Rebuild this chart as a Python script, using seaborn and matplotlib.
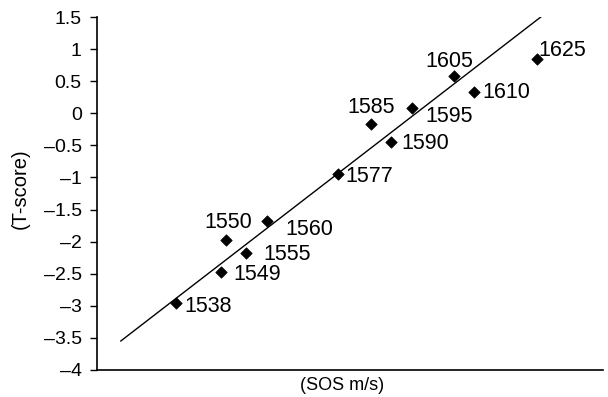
import matplotlib
matplotlib.use("Agg")
import matplotlib.pyplot as plt
import seaborn as sns
import pandas as pd

# Speed of sound (m/s) and corresponding T-scores
sos = [1538, 1549, 1550, 1555, 1560, 1577, 1585, 1590, 1595, 1605, 1610, 1625]
t_score = [-2.95, -2.47, -1.97, -2.18, -1.68, -0.945, -0.17, -0.45, 0.08, 0.58, 0.33, 0.85]
point_labels = ["1538", "1549", "1550", "1555", "1560", "1577",
                "1585", "1590", "1595", "1605", "1610", "1625"]

# Trend line end points
trend_sos = [1524.7, 1626.4]
trend_t = [-3.55, 1.52]

y_ticks = [-4, -3.5, -3, -2.5, -2, -1.5, -1, -0.5, 0, 0.5, 1, 1.5]
y_tick_labels = ["\u20134", "\u20133.5", "\u20133", "\u20132.5", "\u20132", "\u20131.5",
                 "\u20131", "\u20130.5", "0", "0.5", "1", "1.5"]

# label placement (pixel offsets, horizontal alignment)
label_offsets = [(9, -4, "left"), (12, -3, "left"), (3, 17, "center"), (17, -1, "left"),
                 (18, -8, "left"), (8, -3, "left"), (0, 17, "center"), (10, -1, "left"),
                 (13, -8, "left"), (-4, 15, "center"), (8, 0, "left"), (2, 8, "left")]

df = pd.DataFrame({"sos": sos, "t": t_score})
trend = pd.DataFrame({"sos": trend_sos, "t": trend_t})

sns.set_theme(style="white")
plt.rcParams["font.family"] = ["Liberation Sans", "DejaVu Sans"]
plt.rcParams["text.color"] = "black"
plt.rcParams["axes.labelcolor"] = "black"

fig = plt.figure(figsize=(6.08, 3.97), dpi=100)
ax = fig.add_axes([97 / 608, 1 - 370 / 397, (603 - 97) / 608, (370 - 17) / 397])

sns.lineplot(data=trend, x="sos", y="t", ax=ax, color="black", linewidth=1.0)
sns.scatterplot(data=df, x="sos", y="t", ax=ax, marker="D", s=34,
                color="black", edgecolor="black", linewidth=0.5, zorder=3)

for x, y, lab, (dx, dy, ha) in zip(sos, t_score, point_labels, label_offsets):
    ax.annotate(lab, (x, y), xytext=(dx, dy), textcoords="offset pixels",
                ha=ha, va="center", fontsize=15.5, color="black")

ax.set_xlim(1519, 1641)
ax.set_ylim(-4, 1.5)
ax.set_yticks(y_ticks)
ax.set_yticklabels(y_tick_labels, fontsize=14)
ax.set_xticks([])

ax.set_xlabel("(SOS m/s)", fontsize=13, va="center", color="black")
ax.xaxis.set_label_coords(0.484, -0.044)
ax.set_ylabel("(T-score)", fontsize=14.5, va="center", color="black")
ax.yaxis.set_label_coords(-0.152, 0.513)

for side in ["top", "right"]:
    ax.spines[side].set_visible(False)
for side in ["left", "bottom"]:
    ax.spines[side].set_color("black")
    ax.spines[side].set_linewidth(1.2)

ax.tick_params(axis="y", which="both", left=True, length=5, width=1.0,
               color="black", direction="out", pad=6, labelcolor="black")

fig.savefig("out.png", dpi=100)
